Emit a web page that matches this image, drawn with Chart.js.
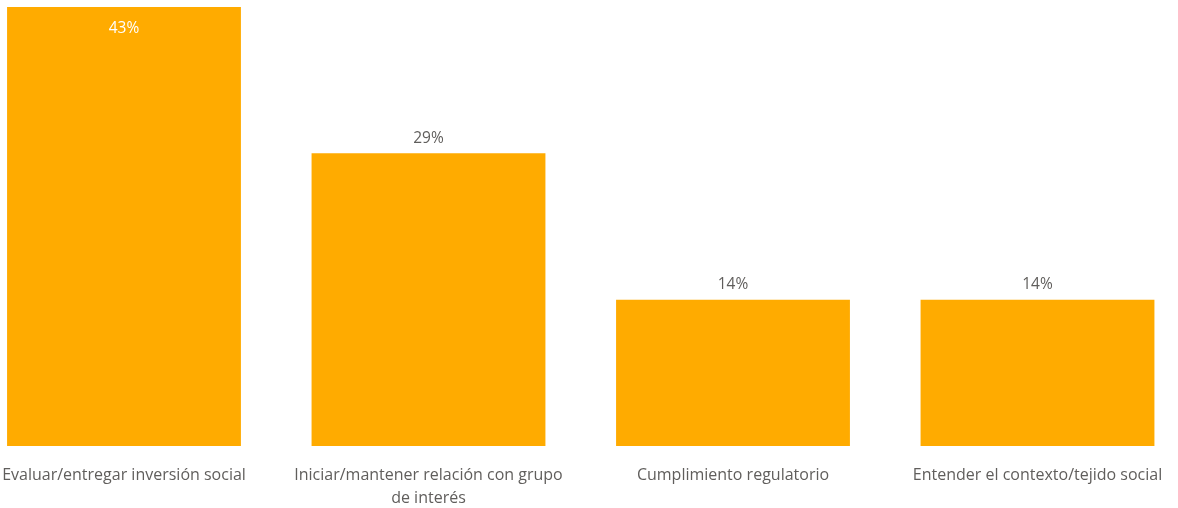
<!DOCTYPE html>
<html>
<head>
<meta charset="utf-8">
<script src="https://cdn.jsdelivr.net/npm/chart.js@4/dist/chart.umd.min.js"></script>
<style>
html,body{margin:0;padding:0;background:#fff;}
#wrap{width:1178px;height:508px;position:relative;}
</style>
</head>
<body>
<div id="wrap"><canvas id="c"></canvas></div>
<script>
const categories = [
  'Evaluar/entregar inversión social',
  ['Iniciar/mantener relación con grupo', 'de interés'],
  'Cumplimiento regulatorio',
  'Entender el contexto/tejido social'
];
const values = [42.86, 28.57, 14.29, 14.29];
const valueLabels = ['43%', '29%', '14%', '14%'];
const positions = [0, 1, 2, 3];

const barColor = '#FFAB00';
const textColor = '#605E5C';
const fontFamily = "'Open Sans', 'Segoe UI', sans-serif";

const labelPlugin = {
  id: 'valueLabels',
  afterDatasetsDraw(chart) {
    const ctx = chart.ctx;
    const meta = chart.getDatasetMeta(0);
    ctx.save();
    ctx.font = '15.5px ' + fontFamily;
    ctx.textAlign = 'center';
    ctx.textBaseline = 'middle';
    meta.data.forEach((bar, i) => {
      const top = bar.y;
      if (top - 28 < chart.chartArea.top) {
        ctx.fillStyle = '#FFFFFF';
        ctx.fillText(valueLabels[i], bar.x, top + 22);
      } else {
        ctx.fillStyle = textColor;
        ctx.fillText(valueLabels[i], bar.x, top - 15);
      }
    });
    ctx.restore();
  }
};

new Chart(document.getElementById('c'), {
  type: 'bar',
  data: {
    datasets: [{
      data: positions.map((p, i) => ({ x: p, y: values[i] })),
      backgroundColor: barColor,
      borderWidth: 0,
      categoryPercentage: 1,
      barPercentage: 0.768
    }]
  },
  options: {
    responsive: true,
    maintainAspectRatio: false,
    animation: false,
    layout: { autoPadding: false, padding: { top: 7, left: 0, right: 0, bottom: 0 } },
    plugins: { legend: { display: false }, tooltip: { enabled: false } },
    scales: {
      x: {
        type: 'linear',
        offset: false,
        min: -0.4072,
        max: 3.4614,
        grid: { display: false, drawTicks: false },
        border: { display: false },
        afterBuildTicks: (s) => { s.ticks = positions.map(v => ({ value: v })); },
        afterFit: (s) => { s.height = 62; s.paddingLeft = 0; s.paddingRight = 0; },
        ticks: {
          autoSkip: false,
          maxRotation: 0,
          minRotation: 0,
          padding: 18,
          color: textColor,
          font: { family: fontFamily, size: 16, lineHeight: 1.45 },
          callback: (v) => categories[v] !== undefined ? categories[v] : ''
        }
      },
      y: {
        display: false,
        min: 0,
        max: 42.86
      }
    }
  },
  plugins: [labelPlugin]
});
</script>
</body>
</html>
